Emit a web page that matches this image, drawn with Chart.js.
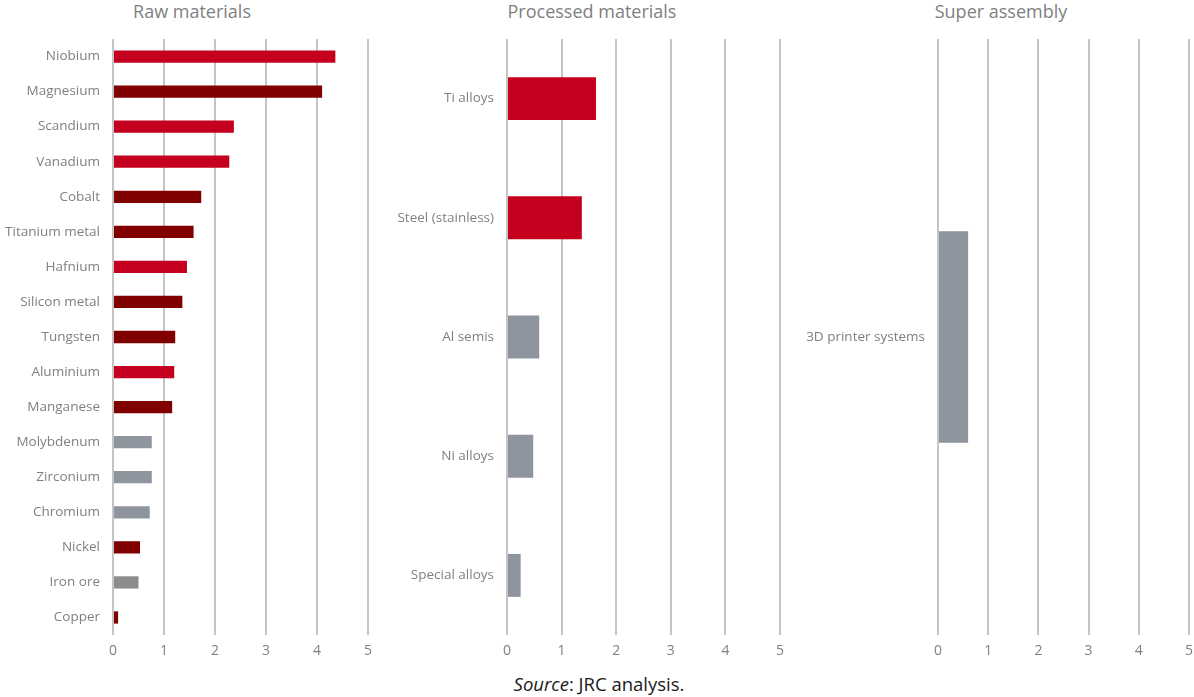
<!DOCTYPE html>
<html>
<head>
<meta charset="utf-8">
<script src="https://cdn.jsdelivr.net/npm/chart.js@4.4.0/dist/chart.umd.min.js"></script>
<style>
  html, body { margin: 0; padding: 0; background: #ffffff; }
  body { width: 1194px; height: 697px; position: relative; overflow: hidden; font-family: "Open Sans", "Noto Sans", sans-serif; }
  .wrap { position: absolute; top: 0; height: 670px; }
  .title { position: absolute; top: -1px; font-size: 18px; color: #7f7f7f; text-align: center; white-space: nowrap; }
  #source { position: absolute; top: 671px; left: 2px; width: 1194px; text-align: center; font-size: 18.5px; color: #1a1a1a; }
</style>
</head>
<body>
<div class="title" style="left:92px;width:200px;">Raw materials</div>
<div class="title" style="left:492px;width:200px;">Processed materials</div>
<div class="title" style="left:901px;width:200px;">Super assembly</div>
<div class="wrap" style="left:0px;width:380px;"><canvas id="c1"></canvas></div>
<div class="wrap" style="left:390px;width:402px;"><canvas id="c2"></canvas></div>
<div class="wrap" style="left:800px;width:401px;"><canvas id="c3"></canvas></div>
<div id="source"><i>Source</i>: JRC analysis.</div>
<script>
// ---- Data ----
const rawLabels = ["Niobium","Magnesium","Scandium","Vanadium","Cobalt","Titanium metal","Hafnium","Silicon metal","Tungsten","Aluminium","Manganese","Molybdenum","Zirconium","Chromium","Nickel","Iron ore","Copper"];
const rawValues = [4.36, 4.10, 2.37, 2.28, 1.73, 1.58, 1.45, 1.36, 1.22, 1.20, 1.16, 0.76, 0.76, 0.72, 0.53, 0.50, 0.10];
const rawGroups = ["red","dark","red","red","dark","dark","red","dark","dark","red","dark","grey","grey","grey","dark","grey2","dark"];

const procLabels = ["Ti alloys","Steel (stainless)","Al semis","Ni alloys","Special alloys"];
const procValues = [1.63, 1.37, 0.59, 0.48, 0.25];
const procGroups = ["red","red","grey","grey","grey"];

const asmLabels = ["3D printer systems"];
const asmValues = [0.60];
const asmGroups = ["grey"];

const xTicks = [0, 1, 2, 3, 4, 5];

// ---- Styles ----
const palette = { red: "#c4001e", dark: "#800000", grey: "#8e959e", grey2: "#8c8c8c" };
const gridColor = "#c4c4c4";
const textColor = "#808080";
const FONT = "'Open Sans', 'Noto Sans', sans-serif";

function makeChart(id, labels, values, groups, yWidth, padRight, barPct) {
  new Chart(document.getElementById(id), {
    type: "bar",
    data: {
      labels: labels,
      datasets: [{
        data: values,
        backgroundColor: groups.map(g => palette[g]),
        borderWidth: 0,
        barPercentage: barPct,
        categoryPercentage: 1.0
      }]
    },
    options: {
      indexAxis: "y",
      responsive: true,
      maintainAspectRatio: false,
      animation: false,
      layout: { padding: { top: 39, right: padRight, bottom: 11, left: 0 } },
      plugins: { legend: { display: false }, tooltip: { enabled: false }, title: { display: false } },
      scales: {
        x: {
          min: xTicks[0], max: xTicks[xTicks.length - 1],
          afterBuildTicks: (axis) => { axis.ticks = xTicks.map(v => ({ value: v })); },
          grid: { color: gridColor, lineWidth: 2, drawTicks: false },
          border: { display: false },
          ticks: { color: textColor, font: { family: FONT, size: 14 }, padding: 8 },
          afterFit: (axis) => { axis.height = 24; }
        },
        y: {
          grid: { display: false, drawTicks: false },
          border: { display: false },
          ticks: { color: textColor, font: { family: FONT, size: 13.5 }, padding: 13, autoSkip: false },
          afterFit: (axis) => { axis.width = yWidth; }
        }
      }
    }
  });
}

makeChart("c1", rawLabels, rawValues, rawGroups, 113, 11, 0.35);
makeChart("c2", procLabels, procValues, procGroups, 117, 10, 0.36);
makeChart("c3", asmLabels, asmValues, asmGroups, 138, 6, 0.355);
</script>
</body>
</html>
